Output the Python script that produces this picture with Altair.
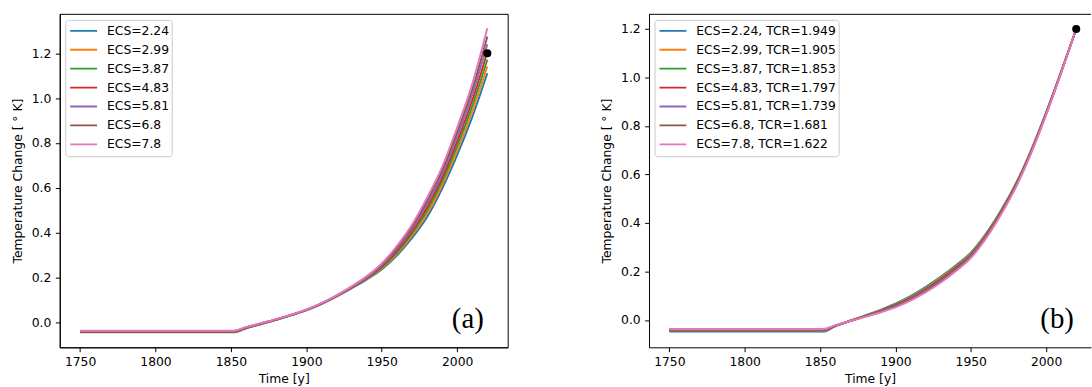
import altair as alt
import pandas as pd

# Sample years shared by every run
years = [1750, 1852, 1860, 1870, 1880, 1890, 1900, 1910, 1920, 1930,
         1940, 1950, 1960, 1970, 1980, 1990, 2000, 2010, 2020]

ecs_values = ["2.24", "2.99", "3.87", "4.83", "5.81", "6.8", "7.8"]
tcr_values = ["1.949", "1.905", "1.853", "1.797", "1.739", "1.681", "1.622"]
palette = ["#1f77b4", "#ff7f0e", "#2ca02c", "#d62728", "#9467bd", "#8c564b", "#e377c2"]

# (a) fixed TCR, varying ECS
temp_a_224 = [-0.045, -0.045, -0.028, -0.009, 0.010, 0.031, 0.053, 0.081, 0.114, 0.151, 0.190, 0.235, 0.297, 0.375, 0.468, 0.595, 0.745, 0.915, 1.111]
temp_a_299 = [-0.044, -0.044, -0.027, -0.008, 0.011, 0.0315, 0.0535, 0.082, 0.115, 0.1525, 0.1925, 0.2395, 0.304, 0.385, 0.4825, 0.611, 0.766, 0.940, 1.141]
temp_a_387 = [-0.043, -0.043, -0.026, -0.007, 0.011, 0.032, 0.054, 0.082, 0.116, 0.154, 0.195, 0.244, 0.311, 0.395, 0.497, 0.627, 0.786, 0.964, 1.171]
temp_a_483 = [-0.0415, -0.0415, -0.025, -0.0065, 0.012, 0.0325, 0.0545, 0.083, 0.117, 0.1555, 0.1975, 0.2485, 0.3185, 0.405, 0.5115, 0.6435, 0.807, 0.989, 1.205]
temp_a_581 = [-0.040, -0.040, -0.024, -0.006, 0.013, 0.033, 0.055, 0.084, 0.118, 0.157, 0.200, 0.253, 0.326, 0.415, 0.526, 0.660, 0.828, 1.014, 1.240]
temp_a_68 = [-0.039, -0.039, -0.023, -0.005, 0.013, 0.0335, 0.0555, 0.084, 0.119, 0.1585, 0.2025, 0.2575, 0.333, 0.425, 0.5405, 0.676, 0.848, 1.038, 1.275]
temp_a_78 = [-0.038, -0.038, -0.022, -0.004, 0.014, 0.034, 0.056, 0.085, 0.120, 0.160, 0.205, 0.262, 0.340, 0.435, 0.555, 0.692, 0.869, 1.063, 1.312]

# (b) TCR tuned so every run reaches the observed warming
temp_b_224 = [-0.048, -0.048, -0.026, -0.003, 0.019, 0.042, 0.068, 0.099, 0.136, 0.178, 0.225, 0.278, 0.356, 0.452, 0.564, 0.700, 0.856, 1.025, 1.2]
temp_b_299 = [-0.046, -0.046, -0.025, -0.003, 0.018, 0.040, 0.065, 0.096, 0.132, 0.174, 0.221, 0.274, 0.3525, 0.449, 0.561, 0.698, 0.854, 1.024, 1.2]
temp_b_387 = [-0.044, -0.044, -0.025, -0.003, 0.017, 0.038, 0.063, 0.093, 0.129, 0.170, 0.217, 0.270, 0.349, 0.446, 0.559, 0.696, 0.853, 1.023, 1.2]
temp_b_483 = [-0.0425, -0.0425, -0.024, -0.0035, 0.016, 0.0365, 0.060, 0.0895, 0.125, 0.166, 0.213, 0.2665, 0.3455, 0.443, 0.556, 0.6935, 0.851, 1.022, 1.2]
temp_b_581 = [-0.041, -0.041, -0.023, -0.004, 0.015, 0.035, 0.057, 0.086, 0.121, 0.162, 0.209, 0.263, 0.342, 0.440, 0.553, 0.691, 0.849, 1.021, 1.2]
temp_b_68 = [-0.039, -0.039, -0.023, -0.004, 0.014, 0.033, 0.055, 0.083, 0.118, 0.158, 0.205, 0.259, 0.3385, 0.437, 0.551, 0.689, 0.848, 1.020, 1.2]
temp_b_78 = [-0.037, -0.037, -0.022, -0.004, 0.013, 0.031, 0.052, 0.080, 0.114, 0.154, 0.201, 0.255, 0.335, 0.434, 0.548, 0.687, 0.846, 1.019, 1.2]

# Observed present-day warming
obs_year = [2020]
obs_temp = [1.2]

panel_tags = ["(a)", "(b)"]
y_ticks = [0.0, 0.2, 0.4, 0.6, 0.8, 1.0, 1.2]
x_ticks = [1750, 1800, 1850, 1900, 1950, 2000]

runs_a = [temp_a_224, temp_a_299, temp_a_387, temp_a_483, temp_a_581, temp_a_68, temp_a_78]
runs_b = [temp_b_224, temp_b_299, temp_b_387, temp_b_483, temp_b_581, temp_b_68, temp_b_78]
labels_a = [f"ECS={e}" for e in ecs_values]
labels_b = [f"ECS={e}, TCR={t}" for e, t in zip(ecs_values, tcr_values)]


def long_table(runs, labels):
    rows = []
    for k, (run, lab) in enumerate(zip(runs, labels)):
        for yr, v in zip(years, run):
            rows.append({"year": yr, "temp": v, "run": lab, "k": k})
    return pd.DataFrame(rows)


FONT = "DejaVu Sans"
FS = 12.4


def panel(runs, labels, tag, width, x_domain, y_domain, frame):
    df = long_table(runs, labels)
    x = alt.X("year:Q", scale=alt.Scale(domain=x_domain, nice=False, zero=False),
              axis=alt.Axis(values=x_ticks, format="d", title="Time [y]",
                            labelPadding=4, titlePadding=5))
    y = alt.Y("temp:Q", scale=alt.Scale(domain=y_domain, nice=False, zero=False),
              axis=alt.Axis(values=y_ticks, format=".1f", title="Temperature Change [ ° K]",
                            labelPadding=4.5, titlePadding=7))
    legend = alt.Legend(
        title=None, orient="none", legendX=5.5, legendY=6,
        symbolType="stroke", symbolSize=729, symbolStrokeWidth=1.9,
        symbolOffset=2, labelOffset=9,
        labelFont=FONT, labelFontSize=FS, labelColor="black", labelLimit=400,
        clipHeight=18.2, rowPadding=0, padding=2,
        strokeColor="#cccccc", cornerRadius=3, fillColor="rgba(255,255,255,0.8)",
    )
    lines = alt.Chart(df).mark_line(strokeWidth=1.9, interpolate="monotone", clip=True).encode(
        x=x, y=y,
        color=alt.Color("run:N", scale=alt.Scale(domain=labels, range=palette), legend=legend),
        detail="k:Q",
    )
    dot = alt.Chart(pd.DataFrame({"year": obs_year, "temp": obs_temp})).mark_point(
        filled=True, color="black", opacity=1, size=66
    ).encode(x="year:Q", y="temp:Q")
    tag_text = alt.Chart(pd.DataFrame({"tag": [tag]})).mark_text(
        font="Liberation Serif", fontSize=29, align="center", baseline="middle", color="black"
    ).encode(text="tag:N", x=alt.value(410), y=alt.value(307))
    layers = [lines, dot, tag_text]
    if not frame:
        top = alt.Chart(pd.DataFrame({"tag": [tag]})).mark_rule(color="black", strokeWidth=1).encode(
            x=alt.value(0), x2=alt.value(width), y=alt.value(0.5))
        layers.append(top)
    view = alt.ViewBackground(stroke="black", strokeWidth=1) if frame else alt.ViewBackground(stroke=None)
    return alt.layer(*layers).properties(width=width, height=335, view=view)


left = panel(runs_a, labels_a, panel_tags[0], 450, [1736.5, 2033.5], [-0.112, 1.376], True)
right = panel(runs_b, labels_b, panel_tags[1], 444, [1736.5, 2029.8], [-0.1125, 1.2625], False)

chart = alt.hconcat(left, right, spacing=92).resolve_scale(color="independent").properties(
    padding={"left": 10, "top": 12, "right": 0, "bottom": 2}, background="white"
).configure_axis(
    grid=False, domainColor="black", domainWidth=1, tickColor="black", tickWidth=1, tickSize=4.4,
    labelFont=FONT, labelFontSize=FS, labelColor="black",
    titleFont=FONT, titleFontSize=FS, titleFontWeight="normal", titleColor="black",
)

chart.save("out.html", embed_options={"renderer": "svg", "actions": False})
